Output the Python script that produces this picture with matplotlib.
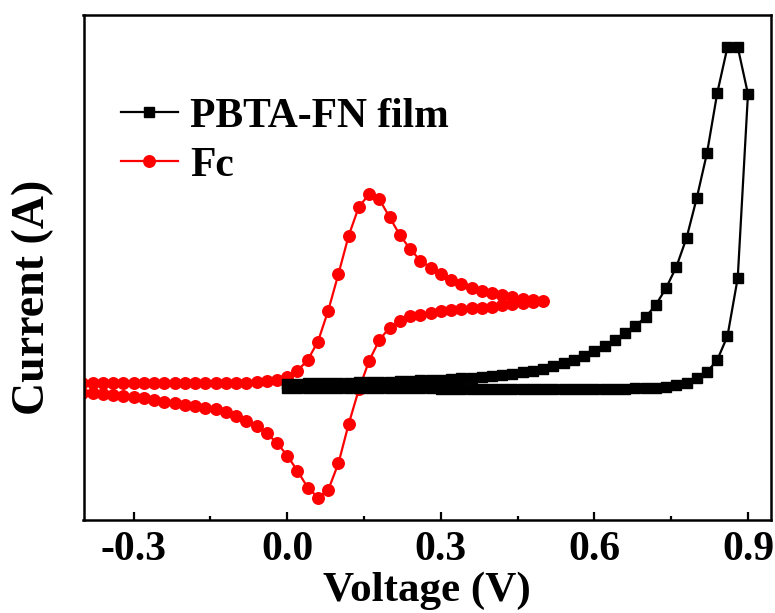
import matplotlib
matplotlib.use("Agg")
import matplotlib.pyplot as plt
from matplotlib.ticker import MultipleLocator, NullLocator

# ---------------- data (arbitrary current units) ----------------
pbta_v_fwd = [0.00, 0.02, 0.04, 0.06, 0.08, 0.10, 0.12, 0.14, 0.16, 0.18,
              0.20, 0.22, 0.24, 0.26, 0.28, 0.30, 0.32, 0.34, 0.36, 0.38,
              0.40, 0.42, 0.44, 0.46, 0.48, 0.50, 0.52, 0.54, 0.56, 0.58,
              0.60, 0.62, 0.64, 0.66, 0.68, 0.70, 0.72, 0.74, 0.76, 0.78,
              0.80, 0.82, 0.84, 0.86, 0.88, 0.90]
pbta_i_fwd = [0.44, 0.45, 0.46, 0.48, 0.50, 0.52, 0.54, 0.56, 0.59, 0.62,
              0.65, 0.68, 0.72, 0.76, 0.80, 0.85, 0.90, 0.96, 1.03, 1.11,
              1.20, 1.30, 1.42, 1.57, 1.75, 1.95, 2.20, 2.50, 2.85, 3.25,
              3.70, 4.20, 4.80, 5.50, 6.20, 7.10, 8.30, 10.0, 12.1, 15.0,
              19.0, 23.5, 29.5, 34.1, 34.1, 29.4]
pbta_v_rev = [0.88, 0.86, 0.84, 0.82, 0.80, 0.78, 0.76, 0.74, 0.72, 0.70,
              0.68, 0.66, 0.64, 0.62, 0.60, 0.58, 0.56, 0.54, 0.52, 0.50,
              0.48, 0.46, 0.44, 0.42, 0.40, 0.38, 0.36, 0.34, 0.32, 0.30,
              0.28, 0.26, 0.24, 0.22, 0.20, 0.18, 0.16, 0.14, 0.12, 0.10,
              0.08, 0.06, 0.04, 0.02, 0.00]
pbta_i_rev = [11.0, 5.2, 2.8, 1.6, 1.0, 0.5, 0.3, 0.15, 0.05, 0.0,
              -0.02, -0.05, -0.05, -0.05, -0.05, -0.05, -0.05, -0.05, -0.05, -0.05,
              -0.05, -0.05, -0.05, -0.05, -0.05, -0.05, -0.05, -0.05, -0.05, -0.05,
              -0.03, -0.03, -0.03, -0.03, -0.03, -0.03, -0.03, -0.03, -0.03, -0.03,
              0.0, 0.0, 0.0, 0.0, 0.0]

fc_v_fwd = [-0.40, -0.38, -0.36, -0.34, -0.32, -0.30, -0.28, -0.26, -0.24, -0.22,
            -0.20, -0.18, -0.16, -0.14, -0.12, -0.10, -0.08, -0.06, -0.04, -0.02,
            0.00, 0.02, 0.04, 0.06, 0.08, 0.10, 0.12, 0.14, 0.16, 0.18,
            0.20, 0.22, 0.24, 0.26, 0.28, 0.30, 0.32, 0.34, 0.36, 0.38,
            0.40, 0.42, 0.44, 0.46, 0.48, 0.50]
fc_i_fwd = [0.47, 0.47, 0.47, 0.47, 0.47, 0.47, 0.47, 0.47, 0.47, 0.47,
            0.47, 0.47, 0.47, 0.47, 0.47, 0.50, 0.55, 0.60, 0.70, 0.85,
            1.10, 1.73, 2.80, 4.65, 7.73, 11.4, 15.23, 18.13, 19.37, 18.87,
            17.07, 15.3, 13.9, 12.75, 12.04, 11.4, 10.8, 10.4, 9.97, 9.73,
            9.47, 9.27, 9.07, 8.90, 8.80, 8.73]
fc_v_rev = [0.48, 0.46, 0.44, 0.42, 0.40, 0.38, 0.36, 0.34, 0.32, 0.30,
            0.28, 0.26, 0.24, 0.22, 0.20, 0.18, 0.16, 0.14, 0.12, 0.10,
            0.08, 0.06, 0.04, 0.02, 0.00, -0.02, -0.04, -0.06, -0.08, -0.10,
            -0.12, -0.14, -0.16, -0.18, -0.20, -0.22, -0.24, -0.26, -0.28, -0.30,
            -0.32, -0.34, -0.36, -0.38, -0.40]
fc_i_rev = [8.63, 8.53, 8.40, 8.27, 8.13, 8.03, 7.97, 7.87, 7.80, 7.70,
            7.52, 7.35, 7.17, 6.70, 6.05, 4.80, 2.73, -0.13, -3.60, -7.53,
            -10.2, -10.95, -9.95, -8.30, -6.75, -5.50, -4.53, -3.80, -3.27, -2.80,
            -2.42, -2.12, -1.95, -1.78, -1.68, -1.53, -1.37, -1.20, -1.03, -0.87,
            -0.80, -0.70, -0.63, -0.53, -0.50]

x_ticks = [-0.3, 0.0, 0.3, 0.6, 0.9]
x_tick_labels = ["-0.3", "0.0", "0.3", "0.6", "0.9"]
series_labels = ["PBTA-FN film", "Fc"]

# ---------------- figure ----------------
W, H, DPI = 775, 613, 100
fig = plt.figure(figsize=(W / DPI, H / DPI), dpi=DPI)
L, R, T, B = 83.5, 771, 15, 520
ax = fig.add_axes([L / W, 1 - B / H, (R - L) / W, (B - T) / H])

font = "Liberation Serif"

pbta_v = pbta_v_fwd + pbta_v_rev
pbta_i = pbta_i_fwd + pbta_i_rev
fc_v = fc_v_fwd + fc_v_rev
fc_i = fc_i_fwd + fc_i_rev

ax.plot(pbta_v, pbta_i, color="black", lw=1.6, marker="s", ms=7.2,
        mec="black", mfc="black", label=series_labels[0], zorder=3)
ax.plot(fc_v, fc_i, color="#ff0000", lw=1.6, marker="o", ms=8.3,
        mec="#ff0000", mfc="#ff0000", label=series_labels[1], zorder=2)

ax.set_xlim(-0.398, 0.945)
ax.set_ylim((388 - B) / 10.0, (388 - T) / 10.0)

ax.set_xticks(x_ticks)
ax.set_xticklabels(x_tick_labels)
ax.xaxis.set_minor_locator(MultipleLocator(0.15))
ax.yaxis.set_major_locator(NullLocator())
ax.yaxis.set_minor_locator(NullLocator())
ax.tick_params(axis="x", which="major", direction="in", length=6, width=1.6,
               pad=8, labelsize=30)
ax.tick_params(axis="x", which="minor", direction="in", length=3, width=1.6)
ax.tick_params(axis="x", top=False)
for lab in ax.get_xticklabels():
    lab.set_fontfamily(font)
    lab.set_fontweight("bold")

for sp in ax.spines.values():
    sp.set_linewidth(1.8)

ax.set_xlabel("Voltage (V)", fontsize=31, fontfamily=font, fontweight="bold",
              labelpad=2)
ax.set_ylabel("Current (A)", fontsize=33, fontfamily=font, fontweight="bold")
ax.yaxis.set_label_coords(-0.043, 0.44)

leg = ax.legend(loc="center left", bbox_to_anchor=(0.055, 0.75), frameon=False,
                prop={"family": font, "weight": "bold", "size": 30},
                handlelength=1.35, handletextpad=0.3, labelspacing=0.25,
                borderpad=0, borderaxespad=0)

fig.savefig("out.png", dpi=DPI)
